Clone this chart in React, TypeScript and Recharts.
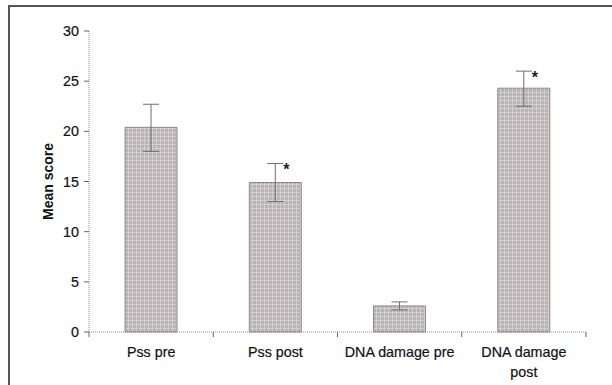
import React from "react";
import {
  BarChart,
  Bar,
  XAxis,
  YAxis,
  ErrorBar,
  LabelList,
} from "recharts";

const categories = ["Pss pre", "Pss post", "DNA damage pre", "DNA damage post"];
const tickLabelLines = [["Pss pre"], ["Pss post"], ["DNA damage pre"], ["DNA damage", "post"]];
const means = [20.4, 14.9, 2.6, 24.3];
const errLow = [2.4, 1.9, 0.4, 1.8];
const errHigh = [2.3, 1.9, 0.4, 1.7];
const significant = ["", "*", "", "*"];
const yTicks = [0, 5, 10, 15, 20, 25, 30];

const W = 612;
const H = 385;
const M = { top: 31, right: 26, bottom: 23, left: 29 };
const Y_W = 60;
const PLOT_W = W - M.left - M.right - Y_W;
const HALF_BAND = PLOT_W / categories.length / 2;

const data = categories.map((name, i) => ({
  name,
  mean: means[i],
  err: [errLow[i], errHigh[i]],
  sig: significant[i],
}));

const FONT = "'Liberation Sans', Arial, sans-serif";
const DOTTED = "#8a8a8a";
const INK = "#111";

// ticks sit on the category boundaries, labels in the middle
function CategoryTick(props: any) {
  const { x, payload, index } = props;
  const i = payload?.index ?? index ?? 0;
  const lines = tickLabelLines[i] || [payload.value];
  const axisY = H - M.bottom - 30;
  return (
    <g>
      <line x1={x - HALF_BAND} x2={x - HALF_BAND} y1={axisY} y2={axisY + 5} stroke="#666" />
      {i === categories.length - 1 && (
        <line x1={x + HALF_BAND} x2={x + HALF_BAND} y1={axisY} y2={axisY + 5} stroke="#666" />
      )}
      <text
        x={x}
        y={axisY + 25}
        textAnchor="middle"
        fontSize={14.3}
        fontFamily={FONT}
        fill={INK}
        stroke={INK}
        strokeWidth={0.2}
      >
        {lines.map((ln: string, k: number) => (
          <tspan key={k} x={x} dy={k === 0 ? 0 : 20}>
            {ln}
          </tspan>
        ))}
      </text>
    </g>
  );
}

function Asterisk(props: any) {
  const vb = props.viewBox || {};
  const x = props.x ?? vb.x;
  const y = props.y ?? vb.y;
  const width = props.width ?? vb.width;
  const height = props.height ?? vb.height;
  const index = props.index;
  if (!props.value) return null;
  const d = data[index];
  const perUnit = height / d.mean;
  const topY = y + height - (d.mean + errHigh[index]) * perUnit;
  return (
    <text
      x={x + width / 2 + 11}
      y={topY + 12}
      textAnchor="middle"
      fontSize={16}
      fontWeight="bold"
      fontFamily={FONT}
      fill="#222"
    >
      {props.value}
    </text>
  );
}

export default function App() {
  return (
    <div style={{ position: "absolute", left: 0, top: 0, width: W, height: H, background: "#fff" }}>
      <div
        style={{
          position: "absolute",
          left: 8,
          top: 5,
          width: W - 8,
          height: H,
          borderTop: "2px solid #555",
          borderLeft: "2px solid #555",
          boxSizing: "border-box",
        }}
      />
      <div style={{ position: "absolute", left: 0, top: 0 }}>
        <BarChart width={W} height={H} data={data} margin={M} barCategoryGap="29%">
          <defs>
            <pattern id="hatch" width="4" height="4" patternUnits="userSpaceOnUse">
              <rect width="4" height="4" fill="#b8b4b5" />
              <path d="M0 0.5 H4 M0.5 0 V4" stroke="#d4cdcd" strokeWidth="1" />
            </pattern>
          </defs>
          <XAxis
            dataKey="name"
            axisLine={{ stroke: DOTTED, strokeDasharray: "1 1" }}
            tickLine={false}
            tick={<CategoryTick />}
            height={30}
            interval={0}
          />
          <XAxis
            xAxisId="top"
            orientation="top"
            dataKey="name"
            height={0}
            tick={false}
            tickLine={false}
            axisLine={{ stroke: DOTTED, strokeDasharray: "1 1" }}
          />
          <YAxis
            domain={[0, 30]}
            ticks={yTicks}
            width={Y_W}
            tickSize={5}
            tickMargin={5}
            tickLine={{ stroke: "#666" }}
            axisLine={{ stroke: DOTTED, strokeDasharray: "1 1" }}
            tick={{ fontSize: 14.3, fill: INK, stroke: INK, strokeWidth: 0.2, fontFamily: FONT }}
            label={{
              value: "Mean score",
              angle: -90,
              position: "insideLeft",
              offset: 19,
              style: { fontSize: 14, fontWeight: "bold", fill: INK, fontFamily: FONT, textAnchor: "middle" },
            }}
          />
          <YAxis
            yAxisId="right"
            orientation="right"
            domain={[0, 30]}
            width={0}
            tick={false}
            tickLine={false}
            axisLine={{ stroke: DOTTED, strokeDasharray: "1 1" }}
          />
          <Bar
            dataKey="mean"
            fill="url(#hatch)"
            stroke="#8e8a8a"
            strokeWidth={1}
            isAnimationActive={false}
          >
            <ErrorBar dataKey="err" width={8} stroke="#6e6e6e" strokeWidth={1} direction="y" />
            <LabelList dataKey="sig" content={<Asterisk />} />
          </Bar>
        </BarChart>
      </div>
    </div>
  );
}
